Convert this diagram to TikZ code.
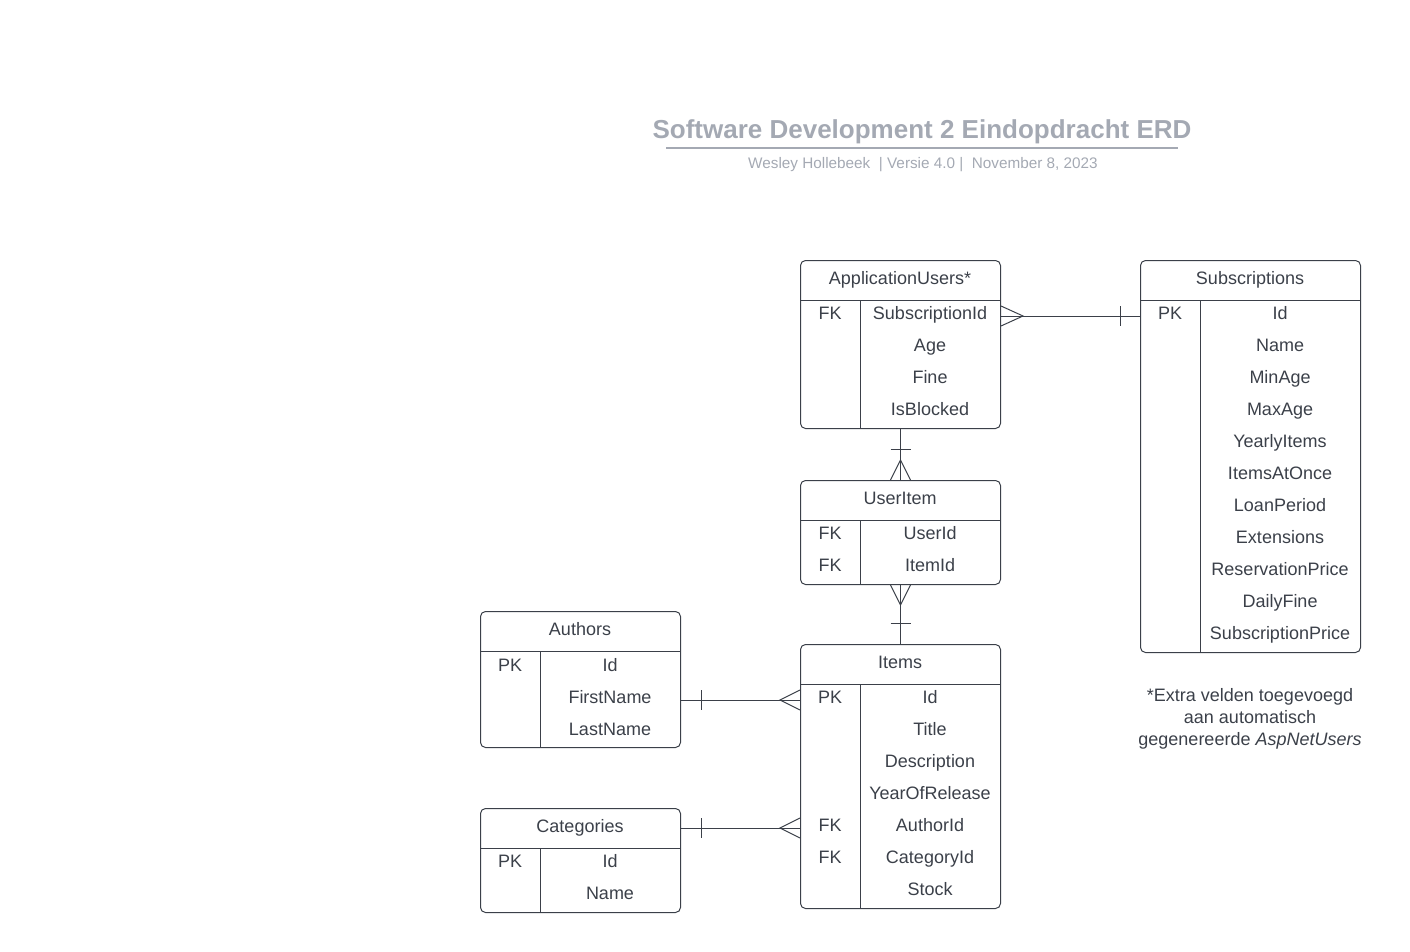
\documentclass[tikz,border=0pt]{standalone}
\usepackage{fontspec}
\setmainfont{Liberation Sans}
\usetikzlibrary{positioning}
\definecolor{ink}{HTML}{3B4049}
\definecolor{titlegray}{HTML}{A4A9B3}
\tikzstyle{entity} = [rectangle, rounded corners=5pt, draw=ink, line width=1pt, anchor=north west, inner sep=0pt]
\tikzstyle{field} = [text=ink, font=\fontsize{18}{21}\selectfont, inner sep=0pt, text height=13pt, text depth=4pt]
\tikzstyle{note} = [text=ink, font=\fontsize{18}{22}\selectfont, align=center]
\tikzstyle{rel} = [draw=ink, line width=1pt]

\begin{document}
\begin{tikzpicture}[x=1pt, y=-1pt]
      \useasboundingbox (0,0) rectangle (1410,952);

      \node (title) [text=titlegray, font=\fontsize{26}{30}\selectfont\bfseries] at (922,132) {Software Development 2 Eindopdracht ERD};
      \draw[titlegray, line width=2pt] ([xshift=17pt]title.south west) -- ([xshift=-17pt]title.south east);
      \node (subtitle) [text=titlegray, font=\fontsize{15.3}{18}\selectfont] at (923,165) {Wesley Hollebeek\ \ | Versie 4.0 |\ \ November 8, 2023};

      % ApplicationUsers
      \node (au) [entity, minimum width=200pt, minimum height=168pt] at (800,260) {};
      \node (au-title) [field] at (900,280) {ApplicationUsers*};
      \draw[rel] ([yshift=-40pt]au.north west) -- ([yshift=-40pt]au.north east);
      \draw[rel] ([shift={(60pt,-40pt)}]au.north west) -- ([xshift=60pt]au.south west);
      \foreach \k/\f [count=\i] in {FK/SubscriptionId, {}/Age, {}/Fine, {}/IsBlocked} {
        \node (au-k\i) [field] at (830,283+32*\i) {\k};
        \node (au-\i) [field] at (930,283+32*\i) {\f};
      }

      % Subscriptions
      \node (sub) [entity, minimum width=220pt, minimum height=392pt] at (1140,260) {};
      \node (sub-title) [field] at (1250,280) {Subscriptions};
      \draw[rel] ([yshift=-40pt]sub.north west) -- ([yshift=-40pt]sub.north east);
      \draw[rel] ([shift={(60pt,-40pt)}]sub.north west) -- ([xshift=60pt]sub.south west);
      \foreach \k/\f [count=\i] in {PK/Id, {}/Name, {}/MinAge, {}/MaxAge, {}/YearlyItems, {}/ItemsAtOnce, {}/LoanPeriod, {}/Extensions, {}/ReservationPrice, {}/DailyFine, {}/SubscriptionPrice} {
        \node (sub-k\i) [field] at (1170,283+32*\i) {\k};
        \node (sub-\i) [field] at (1280,283+32*\i) {\f};
      }

      % UserItem
      \node (ui) [entity, minimum width=200pt, minimum height=104pt] at (800,480) {};
      \node (ui-title) [field] at (900,500) {UserItem};
      \draw[rel] ([yshift=-40pt]ui.north west) -- ([yshift=-40pt]ui.north east);
      \draw[rel] ([shift={(60pt,-40pt)}]ui.north west) -- ([xshift=60pt]ui.south west);
      \foreach \k/\f [count=\i] in {FK/UserId, FK/ItemId} {
        \node (ui-k\i) [field] at (830,503+32*\i) {\k};
        \node (ui-\i) [field] at (930,503+32*\i) {\f};
      }

      % Authors
      \node (aut) [entity, minimum width=200pt, minimum height=136pt] at (480,611) {};
      \node (aut-title) [field] at (580,631) {Authors};
      \draw[rel] ([yshift=-40pt]aut.north west) -- ([yshift=-40pt]aut.north east);
      \draw[rel] ([shift={(60pt,-40pt)}]aut.north west) -- ([xshift=60pt]aut.south west);
      \foreach \k/\f [count=\i] in {PK/Id, {}/FirstName, {}/LastName} {
        \node (aut-k\i) [field] at (510,635+32*\i) {\k};
        \node (aut-\i) [field] at (610,635+32*\i) {\f};
      }

      % Items
      \node (it) [entity, minimum width=200pt, minimum height=264pt] at (800,644) {};
      \node (it-title) [field] at (900,664) {Items};
      \draw[rel] ([yshift=-40pt]it.north west) -- ([yshift=-40pt]it.north east);
      \draw[rel] ([shift={(60pt,-40pt)}]it.north west) -- ([xshift=60pt]it.south west);
      \foreach \k/\f [count=\i] in {PK/Id, {}/Title, {}/Description, {}/YearOfRelease, FK/AuthorId, FK/CategoryId, {}/Stock} {
        \node (it-k\i) [field] at (830,667+32*\i) {\k};
        \node (it-\i) [field] at (930,667+32*\i) {\f};
      }

      % Categories
      \node (cat) [entity, minimum width=200pt, minimum height=104pt] at (480,808) {};
      \node (cat-title) [field] at (580,828) {Categories};
      \draw[rel] ([yshift=-40pt]cat.north west) -- ([yshift=-40pt]cat.north east);
      \draw[rel] ([shift={(60pt,-40pt)}]cat.north west) -- ([xshift=60pt]cat.south west);
      \foreach \k/\f [count=\i] in {PK/Id, {}/Name} {
        \node (cat-k\i) [field] at (510,831+32*\i) {\k};
        \node (cat-\i) [field] at (610,831+32*\i) {\f};
      }

      \node (remark) [note] at (1250,719) {*Extra velden toegevoegd\\aan automatisch\\gegenereerde \textit{AspNetUsers}};

      % relations
      \draw[rel] ([yshift=-1pt]au-1 -| au.east) coordinate (m1) -- ([yshift=-1pt]au-1 -| sub.west) coordinate (o1);
      \draw[rel] ([yshift=10pt]m1) -- ([xshift=22pt]m1) -- ([yshift=-10pt]m1);
      \draw[rel] ([shift={(-20pt,10pt)}]o1) -- ([shift={(-20pt,-10pt)}]o1);

      \draw[rel] (au.south) -- (ui.north);
      \draw[rel] ([shift={(-10pt,-20pt)}]au.south) -- ([shift={(10pt,-20pt)}]au.south);
      \draw[rel] ([xshift=-10pt]ui.north) -- ([yshift=20pt]ui.north) -- ([xshift=10pt]ui.north);

      \draw[rel] (ui.south) -- (it.north);
      \draw[rel] ([xshift=-10pt]ui.south) -- ([yshift=-20pt]ui.south) -- ([xshift=10pt]ui.south);
      \draw[rel] ([shift={(-10pt,21pt)}]it.north) -- ([shift={(10pt,21pt)}]it.north);

      \draw[rel] ([yshift=-1pt]aut-2 -| aut.east) coordinate (o2) -- ([yshift=-1pt]aut-2 -| it.west) coordinate (m2);
      \draw[rel] ([shift={(20pt,10pt)}]o2) -- ([shift={(20pt,-10pt)}]o2);
      \draw[rel] ([yshift=10pt]m2) -- ([xshift=-20pt]m2) -- ([yshift=-10pt]m2);

      \draw[rel] (cat-title -| cat.east) coordinate (o3) -- (cat-title -| it.west) coordinate (m3);
      \draw[rel] ([shift={(20pt,10pt)}]o3) -- ([shift={(20pt,-10pt)}]o3);
      \draw[rel] ([yshift=10pt]m3) -- ([xshift=-20pt]m3) -- ([yshift=-10pt]m3);
\end{tikzpicture}
\end{document}
